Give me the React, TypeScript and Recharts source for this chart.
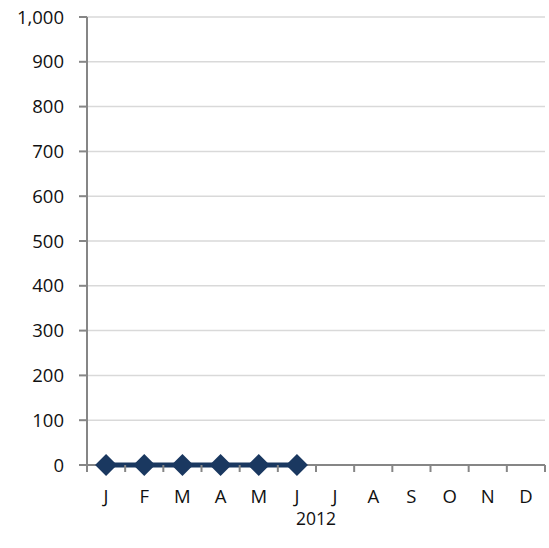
import { LineChart, Line, XAxis, YAxis, CartesianGrid, Label, ReferenceLine } from "recharts";

const months = ["J", "F", "M", "A", "M", "J", "J", "A", "S", "O", "N", "D"];
const values: (number | null)[] = [0, 0, 0, 0, 0, 0, null, null, null, null, null, null];
const yTicks = [0, 100, 200, 300, 400, 500, 600, 700, 800, 900, 1000];

const data = months.map((m, i) => ({ key: `${m}${i}`, month: m, value: values[i] }));

const W = 549;
const H = 548;
const LEFT = 87;
const RIGHT = 4;
const BAND = (W - LEFT - RIGHT) / months.length;
const AXIS = "#868686";
const NAVY = "#1A3860";
const FONT = "'Open Sans', sans-serif";

function MonthTick(props: any) {
  const { x, y, index } = props;
  const left = x - BAND / 2;
  return (
    <g>
      <line x1={left} y1={y} x2={left} y2={y + 7} stroke={AXIS} strokeWidth={2} />
      {index === months.length - 1 && (
        <line x1={x + BAND / 2} y1={y} x2={x + BAND / 2} y2={y + 7} stroke={AXIS} strokeWidth={2} />
      )}
      <text x={x} y={y + 38} textAnchor="middle" fontSize={18.5} fontFamily={FONT} fill="#111">
        {months[index]}
      </text>
    </g>
  );
}

function Diamond(props: any) {
  const { cx, cy, value } = props;
  if (value == null || cx == null) return null;
  const r = 11;
  return (
    <polygon
      points={`${cx},${cy - r} ${cx + r},${cy} ${cx},${cy + r} ${cx - r},${cy}`}
      fill={NAVY}
    />
  );
}

export default function App() {
  return (
    <div style={{ position: "absolute", left: 0, top: 0, background: "#fff" }}>
      <LineChart width={W} height={H} data={data} margin={{ top: 17, right: RIGHT, bottom: 0, left: 0 }}>
        <CartesianGrid vertical={false} stroke="#D9D9D9" strokeWidth={1.5} />
        <XAxis
          dataKey="key"
          scale="band"
          tick={<MonthTick />}
          tickLine={false}
          tickSize={0}
          tickMargin={0}
          height={83}
          interval={0}
          axisLine={false}
        >
          <Label value="2012" position="insideBottom" offset={23} fontSize={17.5} fontFamily={FONT} fill="#111" />
        </XAxis>
        <YAxis
          width={LEFT}
          domain={[0, 1000]}
          ticks={yTicks}
          interval={0}
          tickFormatter={(v: number) => v.toLocaleString("en-US")}
          tick={{ fontSize: 18.5, fontFamily: FONT, fill: "#111" }}
          tickSize={8}
          tickMargin={15}
          tickLine={{ stroke: AXIS, strokeWidth: 2 }}
          axisLine={{ stroke: AXIS, strokeWidth: 2 }}
        />
        <ReferenceLine y={0} stroke={AXIS} strokeWidth={2} />
        <Line
          dataKey="value"
          stroke={NAVY}
          strokeWidth={5}
          dot={<Diamond />}
          activeDot={false}
          isAnimationActive={false}
          connectNulls={false}
        />
      </LineChart>
    </div>
  );
}
